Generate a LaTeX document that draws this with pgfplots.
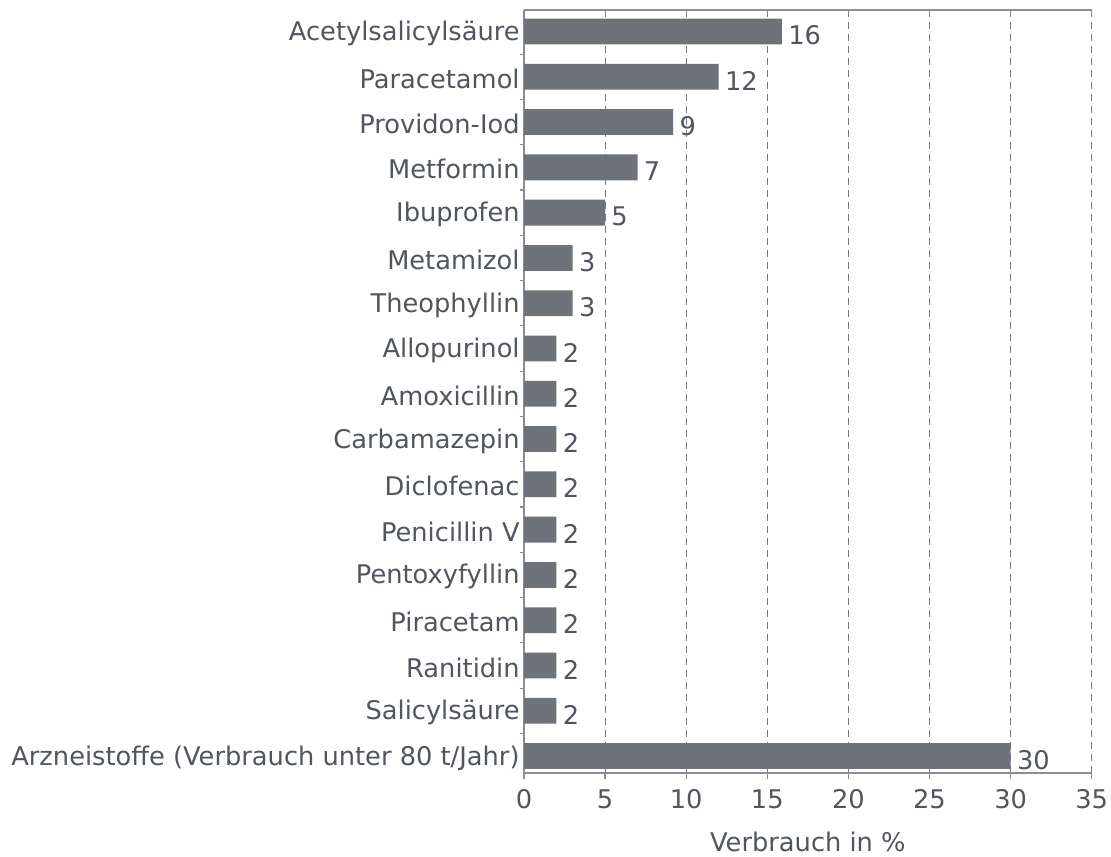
\documentclass[border=0pt]{standalone}
\usepackage{fontspec}
\setmainfont{DejaVu Sans}
\usepackage{pgfplots}
\pgfplotsset{compat=1.18}
\definecolor{barc}{HTML}{6E727A}
\definecolor{txt}{HTML}{50555E}
\definecolor{axc}{HTML}{8A8D92}
\definecolor{gridc}{HTML}{75787E}
\begin{document}
\begin{tikzpicture}
\begin{axis}[
  scale only axis, width=283.85pt, height=381.5pt,
  at={(0,0)}, anchor=south west,
  xbar, bar width=12.9pt, bar shift=0pt,
  xmin=0, xmax=35, ymin=-0.475, ymax=16.375, y dir=reverse,
  axis x line*=box, axis y line*=left,
  axis line style={axc, line width=0.6pt},
  xtick={0,5,...,35}, xtick pos=bottom,
  ytick={0,...,16},
  yticklabels={Acetylsalicylsäure,Paracetamol,Providon-Iod,Metformin,Ibuprofen,Metamizol,Theophyllin,Allopurinol,Amoxicillin,Carbamazepin,Diclofenac,Penicillin V,Pentoxyfyllin,Piracetam,Ranitidin,Salicylsäure,Arzneistoffe (Verbrauch unter 80 t/Jahr)},
  minor ytick={0.5,1.5,...,15.5},
  tick align=outside,
  every major y tick/.style={draw=none},
  every minor y tick/.style={axc, line width=0.6pt},
  every major x tick/.style={axc, line width=0.6pt},
  major tick length=3pt, minor tick length=2pt,
  xmajorgrids,
  major x grid style={gridc, line width=0.55pt, dash pattern=on 3.5pt off 2.5pt},
  font=\fontsize{12.85}{15}\selectfont,
  tick label style={txt},
  /pgf/number format/assume math mode=true,
  yticklabel style={inner sep=0pt, xshift=1pt, yshift=-1pt},
  xticklabel style={inner sep=0pt, yshift=-5pt},
  xlabel={Verbrauch in \%},
  xlabel style={txt, inner sep=0pt, yshift=-11.5pt},
  point meta=explicit symbolic,
  nodes near coords,
  every node near coord/.append style={txt, anchor=west, inner sep=0pt, xshift=3pt, yshift=-2pt},
]
\addplot[fill=barc, draw=none] coordinates {
  (15.9,0) [16]
  (12,1) [12]
  (9.2,2) [9]
  (7,3) [7]
  (5,4) [5]
  (3,5) [3]
  (3,6) [3]
  (2,7) [2]
  (2,8) [2]
  (2,9) [2]
  (2,10) [2]
  (2,11) [2]
  (2,12) [2]
  (2,13) [2]
  (2,14) [2]
  (2,15) [2]
  (30,16) [30]
};
\end{axis}
\begin{axis}[
  scale only axis, width=283.85pt, height=381.5pt,
  at={(0,0)}, anchor=south west,
  xmin=0, xmax=35, ymin=0, ymax=1,
  axis line style={draw=none},
  xtick={0,5,...,35}, xtick pos=top, tick align=inside,
  xticklabels={}, ytick=\empty,
  major tick length=2pt,
  every major x tick/.style={axc, line width=0.6pt},
]
\end{axis}
\pgfresetboundingbox
\path (-262pt,-41.85pt) rectangle (293.5pt,386.5pt);
\end{tikzpicture}
\end{document}
